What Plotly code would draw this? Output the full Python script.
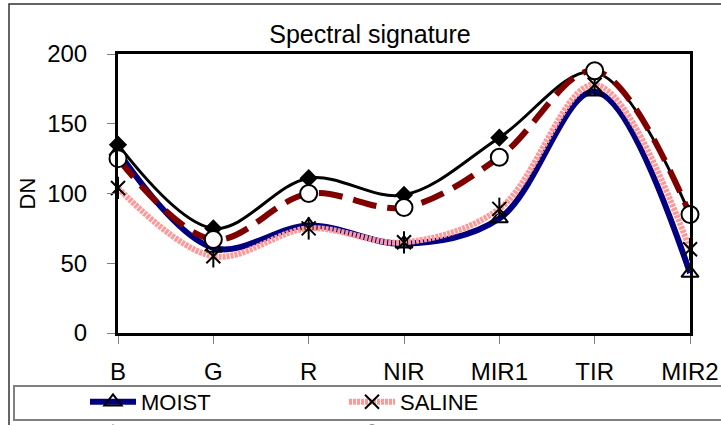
import plotly.graph_objects as go

categories = ["B", "G", "R", "NIR", "MIR1", "TIR", "MIR2"]
moist = [130, 61, 77, 64, 82, 173, 43]
saline = [104, 55, 75, 65, 89, 178, 60]
dry1 = [135, 75, 111, 99, 140, 187, 85]
dry2 = [125, 67, 100, 90, 126, 188, 85]
y_ticks = [0, 50, 100, 150, 200]

W, H = 721, 425
L, R, T, B = 118, 31, 54, 92
pw, ph = W - L - R, H - T - B

def px_x(p):
    return (p - L) / pw

def px_y(p):
    return (H - B - p) / ph

FONT = "Liberation Sans, Arial, sans-serif"

fig = go.Figure()
fig.add_trace(go.Scatter(
    x=categories, y=moist, name="MOIST", mode="lines+markers", cliponaxis=False,
    line=dict(color="#000080", width=6, shape="spline", smoothing=1),
    marker=dict(symbol="triangle-up-open", size=15, color="black", line=dict(width=2, color="black")),
))
fig.add_trace(go.Scatter(
    x=categories, y=saline, name="SALINE", mode="lines+markers", cliponaxis=False,
    line=dict(color="#FF9999", width=6, shape="spline", smoothing=1, dash="3px,1px"),
    marker=dict(symbol="x-thin-open", size=14, color="black", line=dict(width=2, color="black")),
))
fig.add_trace(go.Scatter(
    x=categories, y=saline, name="SALINE", mode="markers", showlegend=False, cliponaxis=False,
    marker=dict(symbol="line-ns-open", size=16, color="black", line=dict(width=2, color="black")),
))
fig.add_trace(go.Scatter(
    x=categories, y=dry1, name="DRY1", mode="lines+markers", cliponaxis=False,
    line=dict(color="black", width=3, shape="spline", smoothing=1),
    marker=dict(symbol="diamond", size=14, color="black"),
))
fig.add_trace(go.Scatter(
    x=categories, y=dry2, name="DRY2", mode="lines+markers", cliponaxis=False,
    line=dict(color="#800000", width=6, shape="spline", smoothing=1, dash="24px,11px"),
    marker=dict(symbol="circle", size=17, color="white", line=dict(width=2, color="black")),
))

fig.update_layout(
    width=W, height=H,
    margin=dict(l=L, r=R, t=T, b=B, autoexpand=False),
    paper_bgcolor="white", plot_bgcolor="white",
    font=dict(family=FONT, size=24, color="black"),
    title=dict(text="Spectral signature", x=370 / W, xref="container", xanchor="center",
               y=1 - 34 / H, yref="container", yanchor="middle",
               font=dict(family=FONT, size=25, color="black")),
    xaxis=dict(
        type="category", range=[0, 6], showgrid=False, zeroline=False,
        showline=True, linecolor="black", linewidth=3, mirror=True,
        ticks="outside", ticklen=8, tickcolor="#808080", tickwidth=1,
        tickfont=dict(size=24), ticklabelstandoff=7,
    ),
    yaxis=dict(
        range=[0, 200], tickvals=y_ticks, showgrid=False, zeroline=False,
        showline=True, linecolor="black", linewidth=3, mirror=True,
        ticks="outside", ticklen=8, tickcolor="#808080", tickwidth=1,
        tickfont=dict(size=24), ticklabelstandoff=15,
        title=dict(text="DN", font=dict(size=22), standoff=6),
    ),
    legend=dict(
        orientation="h", xref="container", yref="container",
        x=85 / W, xanchor="left", y=1 - 381 / H, yanchor="top",
        entrywidth=198, entrywidthmode="pixels", itemwidth=46,
        font=dict(size=22, family=FONT), bgcolor="rgba(0,0,0,0)",
        borderwidth=0, tracegroupgap=0,
    ),
    showlegend=True,
)

# outer chart border and legend box
fig.add_shape(type="rect", xref="paper", yref="paper",
              x0=px_x(9), x1=px_x(740), y0=px_y(4), y1=px_y(460),
              line=dict(color="#333333", width=1.5), fillcolor="rgba(0,0,0,0)", layer="below")
fig.add_shape(type="rect", xref="paper", yref="paper",
              x0=px_x(14), x1=px_x(740), y0=px_y(386), y1=px_y(420),
              line=dict(color="#808080", width=2), fillcolor="rgba(0,0,0,0)", layer="below")

fig.write_html("out.html")
